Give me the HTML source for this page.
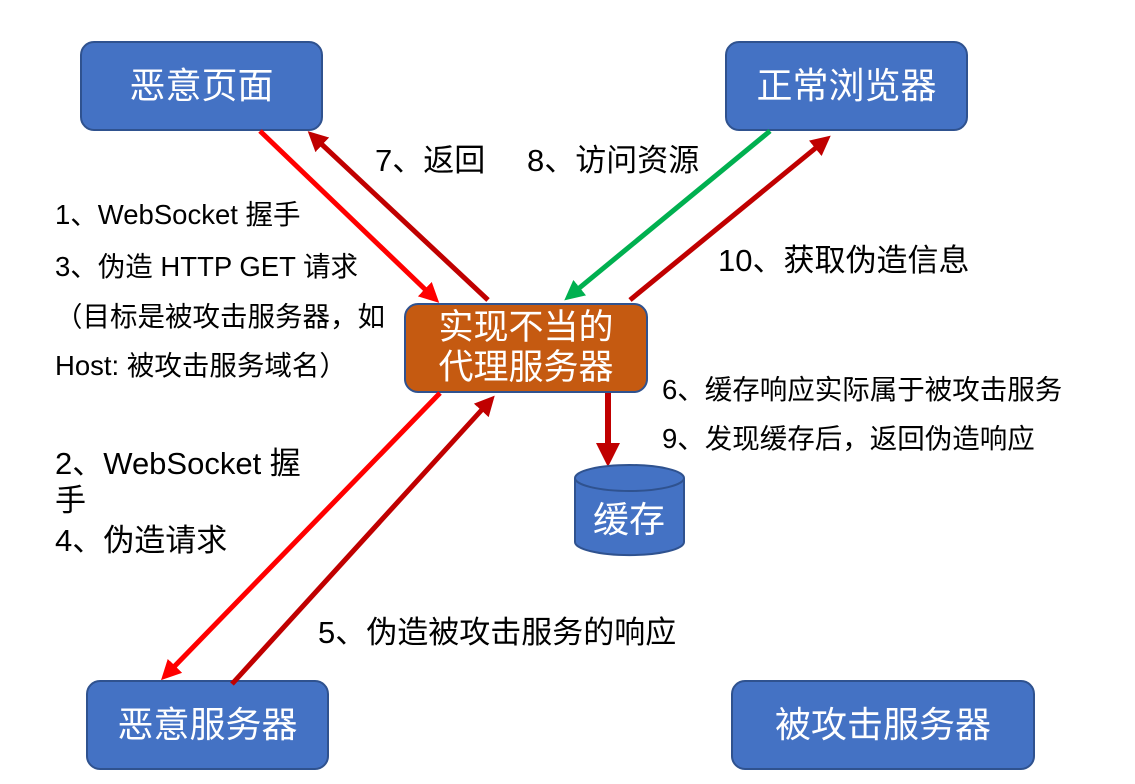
<!DOCTYPE html>
<html><head><meta charset="utf-8"><style>
body{margin:0;width:1135px;height:784px;background:#fff;position:relative;overflow:hidden;font-family:"Liberation Sans","Noto Sans CJK SC",sans-serif}
.b{position:absolute;background:#4472C4;border:2px solid #2F528F;border-radius:14px;color:#fff;font-size:36px;display:flex;align-items:center;justify-content:center;box-sizing:border-box;text-align:center;line-height:1.15}
.t{position:absolute;font-size:27.5px;color:#000;white-space:nowrap;line-height:1}
svg{position:absolute;left:0;top:0}
</style></head><body>
<div class="b" style="left:80px;top:41px;width:243px;height:90px">恶意页面</div>
<div class="b" style="left:725px;top:41px;width:243px;height:90px">正常浏览器</div>
<div class="b" style="left:86px;top:680px;width:243px;height:90px">恶意服务器</div>
<div class="b" style="left:731px;top:680px;width:304px;height:90px">被攻击服务器</div>
<div class="b" style="left:404px;top:303px;width:244px;height:90px;background:#C55A11;font-size:35px">实现不当的<br>代理服务器</div>
<svg width="1135" height="784">
<defs>
<marker id="r" markerWidth="4" markerHeight="4" refX="2" refY="2" orient="auto" markerUnits="strokeWidth"><path d="M0,0 L4,2 L0,4z" fill="#FF0000"/></marker>
<marker id="d" markerWidth="4" markerHeight="4" refX="2" refY="2" orient="auto" markerUnits="strokeWidth"><path d="M0,0 L4,2 L0,4z" fill="#C00000"/></marker>
<marker id="g" markerWidth="4" markerHeight="4" refX="2" refY="2" orient="auto" markerUnits="strokeWidth"><path d="M0,0 L4,2 L0,4z" fill="#00B050"/></marker>
</defs>
<g stroke-width="5" fill="none">
<line x1="260" y1="131" x2="432" y2="296" stroke="#FF0000" marker-end="url(#r)"/>
<line x1="488" y1="300" x2="315" y2="138" stroke="#C00000" marker-end="url(#d)"/>
<line x1="770" y1="131" x2="572" y2="294" stroke="#00B050" marker-end="url(#g)"/>
<line x1="630" y1="300" x2="823" y2="142" stroke="#C00000" marker-end="url(#d)"/>
<line x1="440" y1="393" x2="168" y2="673" stroke="#FF0000" marker-end="url(#r)"/>
<line x1="232" y1="684" x2="488" y2="403" stroke="#C00000" marker-end="url(#d)"/>
<line x1="608" y1="393" x2="608" y2="455" stroke="#C00000" stroke-width="6" marker-end="url(#d)"/>
</g>
<g stroke="#2F528F" stroke-width="2" fill="#4472C4">
<path d="M575,478 L575,542 A54,13 0 0 0 684,542 L684,478"/>
<ellipse cx="629.5" cy="478" rx="54.5" ry="13"/>
</g>
<text x="629" y="532" fill="#fff" font-size="36" text-anchor="middle" font-family="Liberation Sans,Noto Sans CJK SC,sans-serif">缓存</text>
</svg>
<div class="t" style="left:375px;top:145px;font-size:31px">7、返回</div>
<div class="t" style="left:527px;top:145px;font-size:31px">8、访问资源</div>
<div class="t" style="left:55px;top:201px">1、WebSocket 握手</div>
<div class="t" style="left:55px;top:253px">3、伪造 HTTP GET 请求</div>
<div class="t" style="left:55px;top:303px">（目标是被攻击服务器，如</div>
<div class="t" style="left:55px;top:352px">Host: 被攻击服务域名）</div>
<div class="t" style="left:718px;top:245px;font-size:31px">10、获取伪造信息</div>
<div class="t" style="left:662px;top:376px">6、缓存响应实际属于被攻击服务</div>
<div class="t" style="left:662px;top:425px">9、发现缓存后，返回伪造响应</div>
<div class="t" style="left:55px;top:448px;font-size:31px">2、WebSocket 握</div>
<div class="t" style="left:55px;top:485px;font-size:31px">手</div>
<div class="t" style="left:55px;top:525px;font-size:31px">4、伪造请求</div>
<div class="t" style="left:318px;top:617px;font-size:31px">5、伪造被攻击服务的响应</div>
</body></html>
